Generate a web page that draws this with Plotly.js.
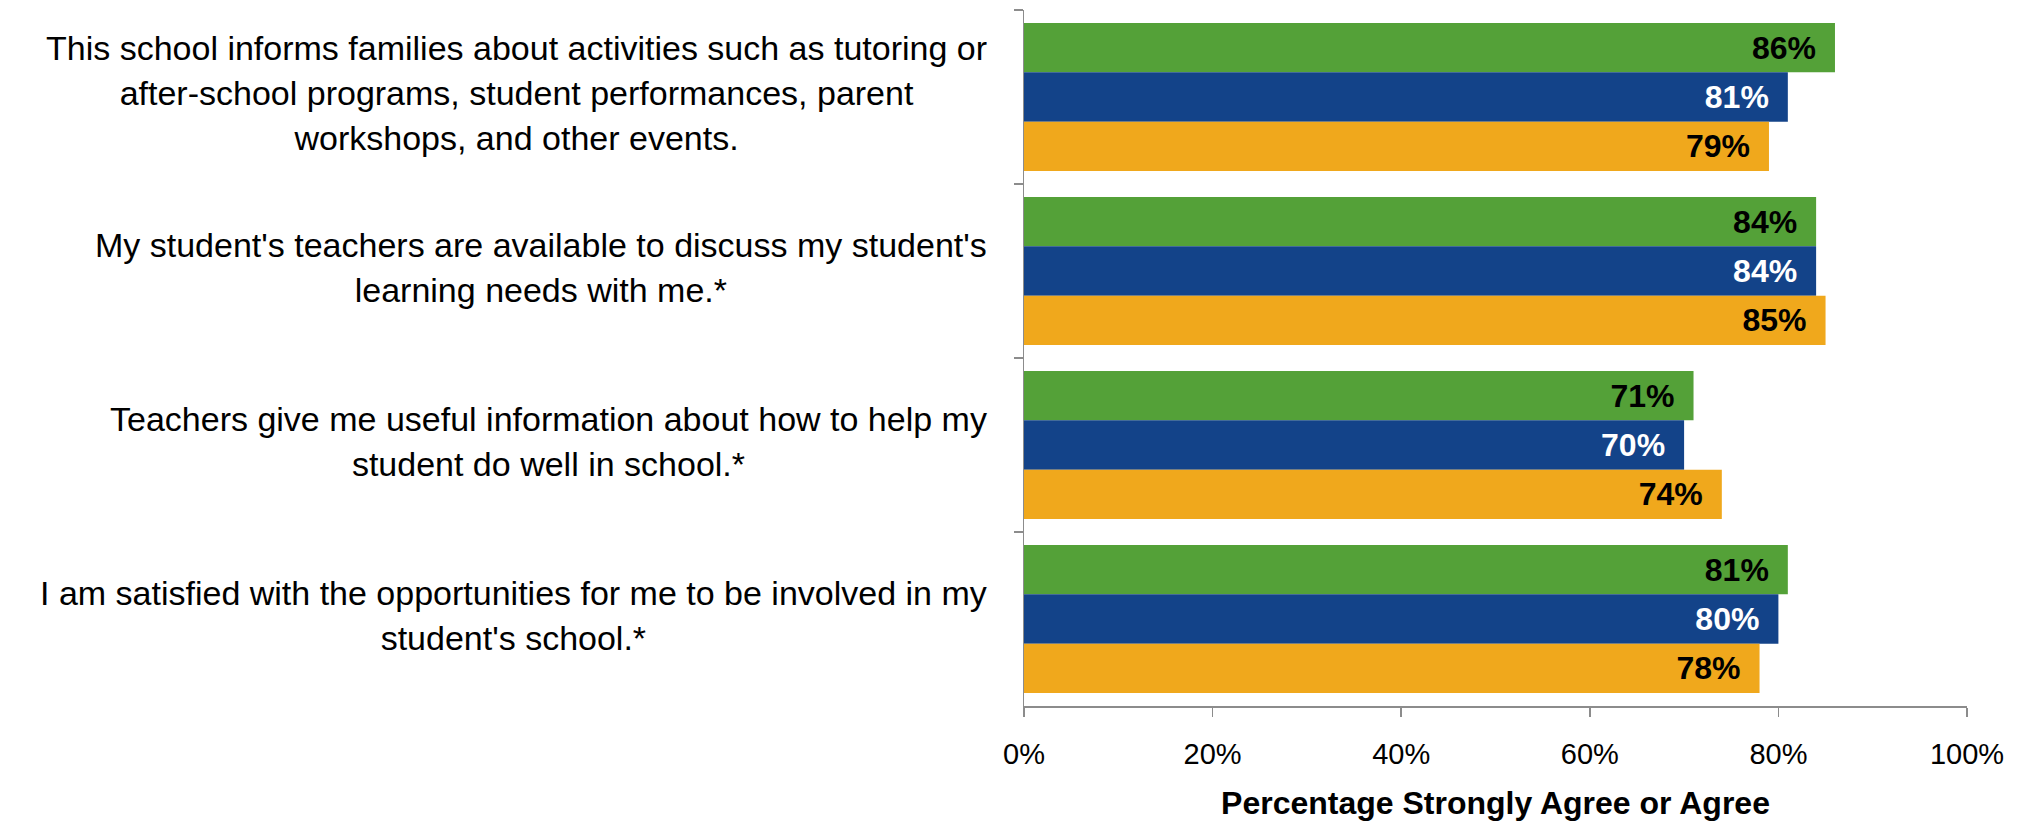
<!DOCTYPE html>
<html><head><meta charset="utf-8">
<script src="https://cdn.plot.ly/plotly-3.0.1.min.js"></script>
<style>html,body{margin:0;padding:0;background:#fff;}#chart{width:2028px;height:825px;}</style>
</head><body><div id="chart"></div>
<script>
const categories = [
  "This school informs families about activities such as tutoring or<br>after-school programs, student performances, parent<br>workshops, and other events.",
  "My student's teachers are available to discuss my student's<br>learning needs with me.*",
  "Teachers give me useful information about how to help my<br>student do well in school.*",
  "I am satisfied with the opportunities for me to be involved in my<br>student's school.*"
];
const seriesNames = ["School", "District", "State"];
const greenValues = [86, 84, 71, 81];
const blueValues = [81, 84, 70, 80];
const orangeValues = [79, 85, 74, 78];
const xTickValues = [0, 20, 40, 60, 80, 100];
const xTickLabels = ["0%", "20%", "40%", "60%", "80%", "100%"];
const xAxisTitle = "Percentage Strongly Agree or Agree";

const FONT = "'Liberation Sans', Arial, sans-serif";
const colors = ["#54A138", "#134389", "#F0A81C"];
const labelColors = ["#000000", "#FFFFFF", "#000000"];
const seriesValues = [greenValues, blueValues, orangeValues];

const traces = seriesValues.map((vals, i) => ({
  type: "bar",
  orientation: "h",
  name: seriesNames[i],
  y: categories,
  x: vals,
  marker: {color: colors[i]},
  text: vals.map(v => v + "%\u2002"),
  texttemplate: "%{text}",
  textposition: "inside",
  insidetextanchor: "end",
  textangle: 0,
  textfont: {family: FONT, size: 32, color: labelColors[i], weight: 700},
  hoverinfo: "x+y"
}));

const LABEL_SIZE = 34;
const annotations = categories.map(c => ({
  xref: "paper", yref: "y",
  x: 0, y: c,
  xanchor: "right", yanchor: "middle",
  xshift: -35, yshift: 4,
  align: "center",
  showarrow: false,
  font: {family: FONT, size: 34.6, color: "#000"},
  text: c.split("<br>").map(l => '<span style="font-size:' + LABEL_SIZE + 'px">' + l + '</span>').join("<br>")
}));

const layout = {
  width: 2028, height: 825,
  margin: {l: 1024, r: 61, t: 10, b: 119, pad: 0},
  paper_bgcolor: "#fff", plot_bgcolor: "#fff",
  font: {family: FONT, size: 29, color: "#000"},
  barmode: "group",
  bargap: 0.15,
  bargroupgap: 0,
  showlegend: false,
  xaxis: {
    range: [0, 100],
    tickvals: xTickValues,
    ticktext: xTickLabels,
    showgrid: false, zeroline: false,
    showline: true, linecolor: "#8c8c8c", linewidth: 1.5,
    ticks: "outside", ticklen: 9, tickcolor: "#8c8c8c", tickwidth: 1.5,
    ticklabelstandoff: 13,
    tickfont: {family: FONT, size: 29, color: "#000"},
    title: {text: xAxisTitle, font: {family: FONT, size: 32, color: "#000", weight: 700}, standoff: 22}
  },
  yaxis: {
    type: "category",
    autorange: "reversed",
    showgrid: false, zeroline: false,
    showline: true, linecolor: "#8c8c8c", linewidth: 1.5,
    ticks: "outside", ticklen: 9, tickcolor: "#8c8c8c", tickwidth: 1.5,
    tickson: "boundaries",
    showticklabels: false
  },
  annotations: annotations
};

Plotly.newPlot("chart", traces, layout, {displayModeBar: false, staticPlot: true});
</script>
</body></html>
